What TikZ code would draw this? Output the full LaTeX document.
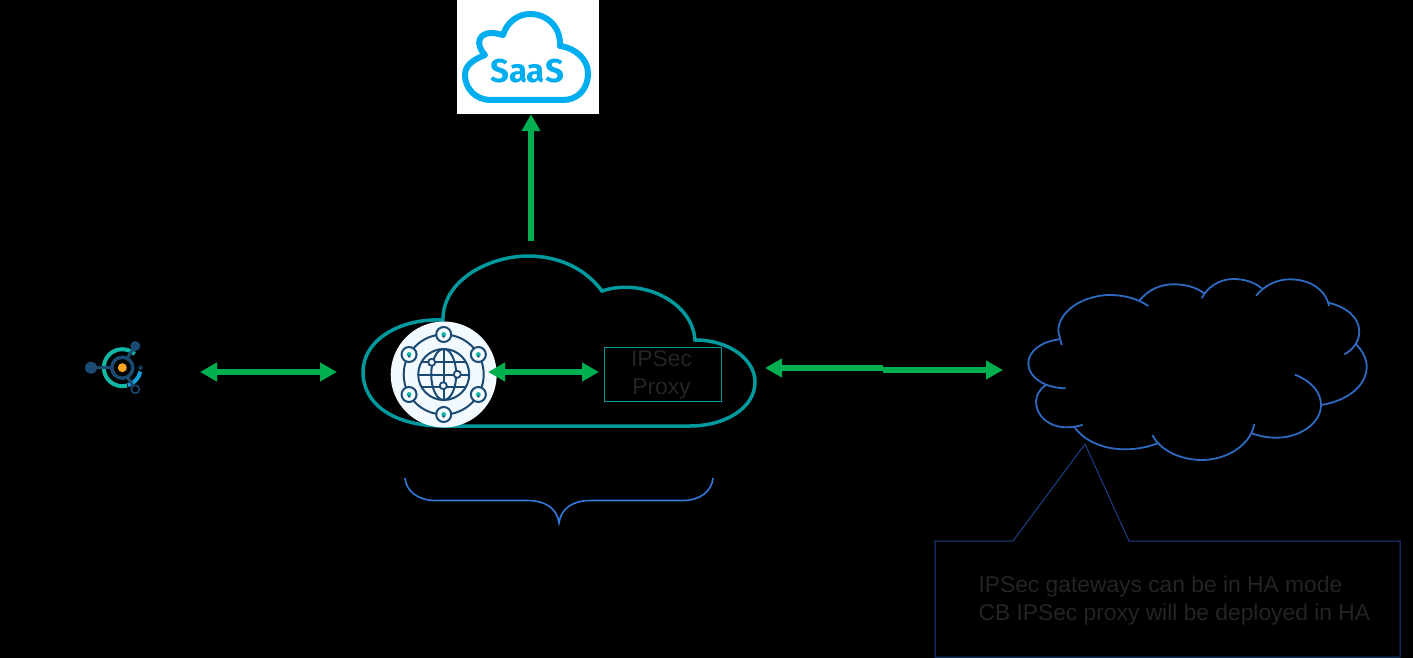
\documentclass[tikz,border=0pt]{standalone}
\usepackage{fontspec}
\setmainfont{Liberation Sans}
\newfontfamily\saasfont{Fira Sans}
\usetikzlibrary{arrows.meta}
\definecolor{flowgreen}{HTML}{00B050}
\definecolor{cloudteal}{HTML}{009A9E}
\definecolor{cloudblue}{HTML}{2F6AC0}
\definecolor{braceblue}{HTML}{3478DC}
\definecolor{saasblue}{HTML}{00AEEF}
\definecolor{navy}{HTML}{1B4A72}
\definecolor{hubteal}{HTML}{12B8A6}
\definecolor{hubblue}{HTML}{149FDC}
\definecolor{hubcore}{HTML}{F9A825}
\definecolor{globewhite}{HTML}{F3FAFF}
\definecolor{noteline}{HTML}{1F4088}
\definecolor{faint}{HTML}{242424}
\tikzstyle{flow}=[draw=flowgreen, line width=5.5pt, {Triangle[length=17pt,width=18pt]}-{Triangle[length=17pt,width=18pt]}]
\tikzstyle{flowup}=[draw=flowgreen, line width=5.5pt, -{Triangle[length=17pt,width=18pt]}]
\tikzstyle{lobe}=[draw=cloudblue, line width=1.8pt]
\tikzstyle{gate}=[circle, draw=navy, fill=globewhite, line width=2pt, inner sep=0pt, minimum size=15pt]
\tikzstyle{pin}=[circle, draw=navy, fill=globewhite, line width=1.8pt, inner sep=0pt, minimum size=7pt]
\tikzstyle{faintlabel}=[text=faint, font=\fontsize{22.8}{28}\selectfont, align=left]

\begin{document}
\begin{tikzpicture}[x=1pt, y=-1pt]
\useasboundingbox (0,0) rectangle (1413,658);
\fill[black] (0,0) rectangle (1413,658);
% saas
\node[fill=white, inner sep=0pt, minimum width=142pt, minimum height=114pt] (saas) at (528,57) {};
\draw[saasblue, line width=6pt, line join=round]
  (485,55) .. controls (474,43) and (480,33) .. (491,33)
  .. controls (495,33) and (499,34) .. (503,35)
  .. controls (507,22) and (518,14) .. (530,14)
  .. controls (548,14) and (561,28) .. (560,46)
  .. controls (576,48) and (588,60) .. (588,73)
  .. controls (588,90) and (577,100) .. (563,100)
  -- (491,100) .. controls (475,100) and (465,88) .. (465,75)
  .. controls (465,66) and (472,60) .. (485,55) -- cycle;
\node[text=saasblue, font=\saasfont\bfseries\fontsize{33}{33}\selectfont] (saaslabel) at (527,71) {SaaS};
% teal cloud
\draw[cloudteal, line width=3.5pt]
  (443,322) .. controls (441,280) and (490,256) .. (528,256)
  .. controls (558,256) and (585,268) .. (602,291)
  .. controls (640,278) and (692,300) .. (695,340)
  .. controls (730,340) and (755,360) .. (755,382)
  .. controls (755,408) and (725,426) .. (690,426)
  -- (443,426) .. controls (395,426) and (363,405) .. (363,372)
  .. controls (363,340) and (400,318) .. (443,320);
% globe
\node[circle, fill=globewhite, inner sep=0pt, minimum size=106pt] (gw) at (443.7,374.5) {};
\draw[navy, line width=2pt] (gw.center) circle (40);
\foreach \a in {30,90,150,210,270,330} {
  \node[gate] (g\a) at ([shift={(\a:40)}]gw.center) {};
  \fill[hubteal] ([shift={(\a:40)}]gw.center) circle (2.4);
  \fill[navy] ([shift={(\a:40)}]gw.center)++(0,2) circle (1.3);
}
\draw[navy, line width=2pt] (gw.center) circle (25.5);
\draw[navy, line width=2pt] (gw.center) ellipse (12.5 and 25.5);
\draw[navy, line width=2pt] (443.7,349) -- (443.7,400);
\draw[navy, line width=2pt] (418.2,374.5) -- (469.2,374.5);
\draw[navy, line width=2pt] (421.5,362) -- (466,362);
\draw[navy, line width=2pt] (421.5,387) -- (466,387);
\node[pin] (p1) at (431.7,362.3) {};
\node[pin] (p2) at (457.3,374.3) {};
\node[pin] (p3) at (443.3,385.7) {};
% hub
\node[circle, fill=hubcore, inner sep=0pt, minimum size=9pt] (hub) at (122.3,367.7) {};
\draw[navy, line width=3.5pt] (hub.center) circle (10.5);
\draw[hubteal, line width=4pt] (hub.center) ++(-48:18.5) arc[start angle=-48, end angle=-285, radius=18.5];
\draw[hubblue, line width=4pt] (hub.center) ++(12:18.5) arc[start angle=12, end angle=72, radius=18.5];
\node[circle, fill=navy, inner sep=0pt, minimum size=12pt] (hubl) at (91,367.7) {};
\node[circle, fill=navy, inner sep=0pt, minimum size=10pt] (hubt) at (135.3,346) {};
\node[circle, draw=navy, line width=1.5pt, fill=black, inner sep=0pt, minimum size=8pt] (hubb) at (135.3,389.3) {};
\node[circle, draw=navy, line width=1pt, fill=black, inner sep=0pt, minimum size=3.5pt] (hubr) at (140.5,367.7) {};
\draw[navy, line width=3pt] (hubl) -- (111.8,367.7);
\draw[navy, line width=3pt] (hubt) -- (128,357);
\draw[navy, line width=3pt] (hubb) -- (128,378);
% ipsec proxy
\node[draw=cloudteal, line width=1pt, minimum width=117pt, minimum height=54pt, inner sep=0pt] (proxy) at (662.5,374) {};
\node[faintlabel, align=center] (proxylabel) at (661.5,375) {IPSec\\ Proxy};
% customer network
\draw[lobe] (1061.7,345) -- (1058.3,331.7) .. controls (1058,310) and (1085,295) .. (1110,295) .. controls (1125,295) and (1138,299) .. (1148.3,306);
\draw[lobe] (1139.3,300.7) .. controls (1148,290) and (1160,284.3) .. (1173.3,284.3) .. controls (1185,284.3) and (1196,287) .. (1204,293.3);
\draw[lobe] (1201.7,298.3) .. controls (1207,287) and (1220,279) .. (1233.3,279) .. controls (1244,279) and (1254,282) .. (1261.7,288.3);
\draw[lobe] (1256,295.7) .. controls (1264,286) and (1276,279.3) .. (1290,279.3) .. controls (1310,279.3) and (1326,290) .. (1329,306);
\draw[lobe] (1328.3,302.7) .. controls (1347,307) and (1359.3,318) .. (1359.3,331.7) .. controls (1359.3,341) and (1353,350) .. (1344.3,354.3);
\draw[lobe] (1355,343.3) .. controls (1362,350) and (1366.7,358) .. (1366.7,366.7) .. controls (1366.7,386) and (1347,401) .. (1321,405);
\draw[lobe] (1295,374.7) .. controls (1311,381) and (1321,392) .. (1321,405) .. controls (1321,423) and (1300,437.7) .. (1276.7,437.7) .. controls (1267,437.7) and (1259,436) .. (1251.7,433.3);
\draw[lobe] (1254.3,424) .. controls (1251,444) and (1228,460) .. (1201.7,460) .. controls (1180,460) and (1160,450) .. (1152.3,435);
\draw[lobe] (1157.7,443.3) .. controls (1148,447) and (1137,449.3) .. (1125,449.3) .. controls (1102,449.3) and (1083,440) .. (1074.3,426.7);
\draw[lobe] (1082.7,424.7) .. controls (1078,426.5) and (1072,427.3) .. (1066.7,427.3) .. controls (1049,427.3) and (1036,416) .. (1036,401.7) .. controls (1036,395) and (1040,389) .. (1045.7,385);
\draw[lobe] (1065.7,388.3) .. controls (1044,388) and (1028.3,377) .. (1028.3,363.3) .. controls (1028.3,351) and (1042,341) .. (1060,339.3);
% brace
\draw[braceblue, line width=1.6pt]
  (405,478) .. controls (406,491) and (418,500.5) .. (435,500.5) -- (527,500.5)
  .. controls (545,500.5) and (557,508) .. (559,523)
  .. controls (561,508) and (573,500.5) .. (591,500.5) -- (683,500.5)
  .. controls (700,500.5) and (712,491) .. (713,478);
% callout
\draw[noteline, line width=1pt] (935,541) -- (1013,541) -- (1085,444) -- (1129,541) -- (1400,541) -- (1400,657) -- (935,657) -- cycle;
\node[faintlabel, anchor=west] (note) at (975,600.5) {IPSec gateways can be in HA mode\\CB IPSec proxy will be deployed in HA};
% flows
\coordinate (a1) at (200,372);
\coordinate (a2) at (337,372);
\coordinate (b1) at (488,372);
\coordinate (b2) at (599,372);
\coordinate (c1) at (765,368);
\coordinate (c2) at (883,368);
\coordinate (c3) at (883,370);
\coordinate (c4) at (1003,370);
\coordinate (d1) at (531,241);
\draw[flow] (a1) -- (a2);
\draw[flow] (b1) -- (b2);
\draw[flowup] (c2) -- (c1);
\draw[flowup] (c3) -- (c4);
\draw[flowup] (d1) -- (d1 |- saas.south);
\end{tikzpicture}
\end{document}
